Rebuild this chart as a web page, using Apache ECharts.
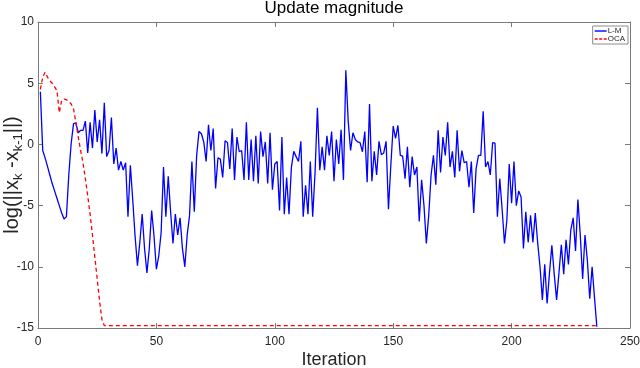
<!DOCTYPE html>
<html>
<head>
<meta charset="utf-8">
<title>Update magnitude</title>
<script src="https://cdn.jsdelivr.net/npm/echarts@6/dist/echarts.min.js"></script>
<style>
  html, body { margin: 0; padding: 0; background: #fff; }
  #main { width: 640px; height: 368px; }
</style>
</head>
<body>
<div id="main"></div>
<script>
// L-M：每次迭代的更新量（对数），迭代 1..236
var lmValues = [
  4.3, -0.5, -1.1, -1.8, -2.5, -3.2, -3.8, -4.4, -5.0, -5.6,
  -6.1, -5.9, -2.5, 0.05, 1.7, 1.75, 0.95, 1.15, 1.15, 1.9,
  -0.7, 1.8, -0.3, 2.8, 0.2, 2.0, -0.75, 3.4, -1.0, -0.5,
  2.2, -1.6, -0.3, -2.1, -1.4, -2.1, -1.5, -5.9, -1.7, -4.5,
  -7.5, -9.9, -8.0, -5.7, -8.5, -10.5, -8.5, -5.4, -7.5, -10.2,
  -9.1, -7.2, -1.85, -5.9, -2.6, -5.5, -8.1, -5.7, -7.4, -6.0,
  -8.5, -10.0, -7.4, -5.8, -1.4, -5.5, -0.9, 1.06, 0.87, 0.2,
  -1.4, 1.6, -0.5, 1.3, -3.6, -1.1, -1.2, -2.7, 0.3, 0.15,
  -2.0, 1.3, -2.9, 0.6, -0.6, -0.5, -2.9, 1.8, -2.9, 0.4,
  -3.0, 0.7, -3.2, 1.05, -1.0, 0.2, -3.2, 0.95, -3.7, -1.6,
  -1.4, -5.4, 0.6, -5.7, -2.7, -5.7, -1.9, -0.57, -1.0, -1.4,
  0.25, -5.9, -3.35, -5.7, -1.4, -5.9, -2.3, 3.0, -2.1, -0.2,
  -2.1, 0.7, -0.9, 1.05, -3.0, 0.4, -1.6, 1.2, -2.9, 6.05,
  1.9, -0.5, 0.95, 0.4, 0.2, 0.15, -0.6, 1.05, -3.1, 3.3,
  -3.0, -0.57, -2.5, 0.25, -0.84, -0.7, 0.25, -5.3, -1.7, 1.5,
  0.5, 1.55, -0.9, -0.95, -2.8, -0.2, -3.5, -1.0, -2.5, -1.85,
  -6.3, -2.9, -5.0, -8.1, -5.8, -2.5, -0.9, -3.3, 1.15, -2.3,
  0.6, -0.9, 1.8, -1.85, -0.57, -2.7, 1.15, -2.2, -0.5, -1.5,
  -1.4, -3.5, -1.4, -5.6, -2.0, -0.9, -0.9, 2.7, -1.85, -1.4,
  -2.5, 0.15, 0.1, -5.9, -2.8, -5.3, -8.1, -6.2, -1.6, -4.8,
  -1.4, -5.0, -3.8, -4.3, -8.5, -5.5, -8.0, -5.8, -8.0, -5.6,
  -8.0, -10.0, -12.7, -9.8, -13.0, -10.5, -8.25, -10.6, -12.7, -10.5,
  -8.2, -10.6, -7.8, -9.8, -7.0, -6.0, -8.7, -4.5, -7.4, -11.0,
  -7.4, -9.5, -12.6, -10.0, -12.5, -14.9
];

// OCA：前 28 次迭代后保持在下限，直到最后一次迭代
var ocaIter = [1, 2, 3, 4, 5, 6, 7, 8, 9, 10, 11, 12, 13, 14, 15, 16, 17, 18, 19, 20,
  21, 22, 23, 24, 25, 26, 27, 28, 236];
var ocaValues = [4.5, 5.5, 5.9, 5.5, 5.2, 5.0, 4.7, 4.4, 2.6, 3.6, 3.7, 3.65, 3.5, 3.3, 2.9, 1.8,
  0.6, -0.5, -1.5, -2.8, -4.2, -5.7, -7.4, -9.2, -11.0, -12.8, -14.3, -14.8, -14.8];

// 坐标轴刻度
var xTicks = [0, 50, 100, 150, 200, 250];
var yTicks = [-15, -10, -5, 0, 5, 10];

var seriesNames = ["L-M", "OCA"];

var fontFamily = "'Liberation Sans', Arial, Helvetica, sans-serif";
var boxColor = "#7a7a7a";
var labelColor = "#262626";

var lmData = lmValues.map(function (v, i) {
  return [i + 1, v];
});
var ocaData = ocaValues.map(function (v, i) {
  return [ocaIter[i], v];
});

var chart = echarts.init(document.getElementById("main"), null, { renderer: "canvas" });

// 四边框线 + 内向刻度（MATLAB 风格）
function makeAxis(ticks, position, showLabel) {
  return {
    type: "value",
    position: position,
    min: ticks[0],
    max: ticks[ticks.length - 1],
    interval: ticks[1] - ticks[0],
    axisLine: { show: true, onZero: false, lineStyle: { color: boxColor, width: 1 } },
    axisTick: { show: true, inside: true, length: 5, lineStyle: { color: boxColor } },
    axisLabel: {
      show: showLabel,
      color: labelColor,
      fontSize: 12,
      fontFamily: fontFamily,
    },
    splitLine: { show: false },
  };
}

var xBottom = makeAxis(xTicks, "bottom", true);
xBottom.axisLabel.margin = 8;
xBottom.name = "Iteration";
xBottom.nameLocation = "middle";
xBottom.nameGap = 23;
xBottom.nameMoveOverlap = false;
xBottom.nameTextStyle = { fontSize: 18, color: labelColor, fontFamily: fontFamily };

var yLeft = makeAxis(yTicks, "left", true);
yLeft.axisLabel.margin = 4;
yLeft.name = "{a|log(||x}{b|k}{a| -x}{b|k-1}{a|||)}";
yLeft.nameLocation = "middle";
yLeft.nameGap = 13;
yLeft.nameMoveOverlap = false;
yLeft.nameTextStyle = {
  color: labelColor,
  fontFamily: fontFamily,
  rich: {
    a: { fontSize: 20, lineHeight: 25, color: labelColor, fontFamily: fontFamily },
    b: { fontSize: 13, lineHeight: 13, verticalAlign: "bottom", color: labelColor, fontFamily: fontFamily },
  },
};

var option = {
  animation: false,
  backgroundColor: "#ffffff",
  title: {
    text: "Update magnitude",
    left: 334,
    textAlign: "center",
    top: 0,
    padding: 0,
    textStyle: { fontSize: 17, fontWeight: "normal", color: "#000", fontFamily: fontFamily },
  },
  grid: { left: 38, right: 10, top: 22, bottom: 40, containLabel: false, outerBoundsMode: "none" },
  legend: {
    // 图例图标：实线 / 虚线
    data: [
      { name: seriesNames[0], icon: "path://M0,0h12v1h-12z" },
      { name: seriesNames[1], icon: "path://M0,0h3v1h-3zM4.5,0h3v1h-3zM9,0h3v1h-3z" },
    ],
    orient: "vertical",
    right: 12,
    top: 26,
    padding: [1, 3, 1, 2],
    itemGap: 0,
    itemWidth: 12,
    itemHeight: 1.4,
    symbolKeepAspect: false,
    backgroundColor: "#fff",
    borderColor: "#8c8c8c",
    borderWidth: 1,
    borderRadius: 0,
    textStyle: { fontSize: 8, lineHeight: 8, color: labelColor, fontFamily: fontFamily, padding: [0, 0, 0, -4] },
  },
  xAxis: [xBottom, makeAxis(xTicks, "top", false)],
  yAxis: [yLeft, makeAxis(yTicks, "right", false)],
  series: [
    {
      name: "L-M",
      type: "line",
      data: lmData,
      symbol: "none",
      color: "#0000ff",
      lineStyle: { color: "#0000ff", width: 1.3 },
    },
    {
      name: "OCA",
      type: "line",
      data: ocaData,
      symbol: "none",
      color: "#ff0000",
      lineStyle: { color: "#ff0000", width: 1.3, type: [4, 3] },
    },
  ],
};

chart.setOption(option);
</script>
</body>
</html>
